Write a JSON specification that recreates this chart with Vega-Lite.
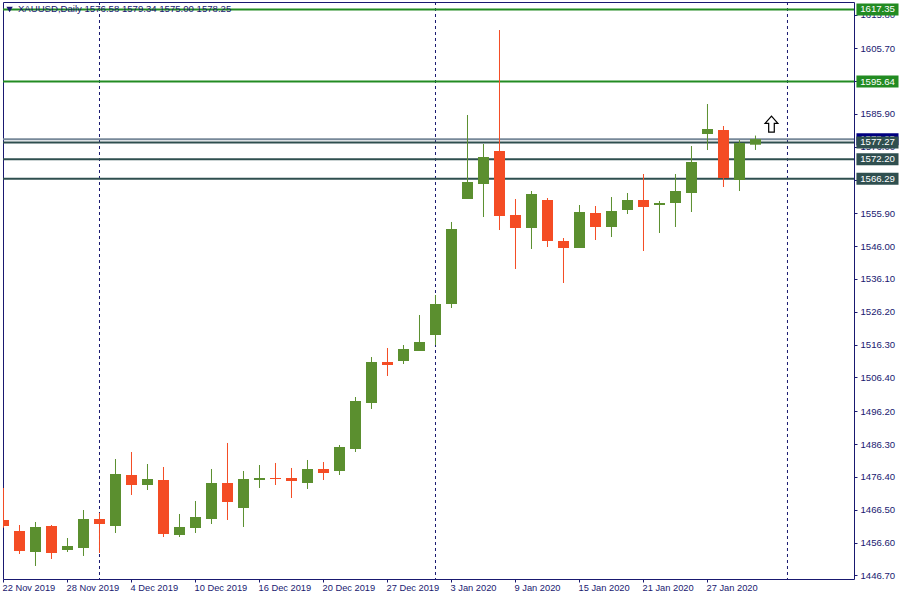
{
"$schema":"https://vega.github.io/schema/vega-lite/v6.json",
"width":851,"height":577,
"autosize":{"type":"none"},
"padding":{"left":3,"top":2,"right":46,"bottom":21},
"background":"white",
"view":{"stroke":"#191970","strokeWidth":1,"fill":"white"},
"config":{"font":"Liberation Sans","axis":{"labelOverlap":false,"labelBound":false,"labelFlush":false,"grid":false,"domain":false}},
"datasets":{
"candles":[
{"i":0,"date":"22 Nov 2019","open":1463.43,"high":1473.08,"low":1461.11,"close":1461.62},
{"i":1,"date":"25 Nov 2019","open":1460.11,"high":1461.92,"low":1453.18,"close":1454.08},
{"i":2,"date":"26 Nov 2019","open":1453.78,"high":1462.83,"low":1449.56,"close":1461.32},
{"i":3,"date":"27 Nov 2019","open":1461.62,"high":1461.92,"low":1451.67,"close":1453.48},
{"i":4,"date":"28 Nov 2019","open":1454.38,"high":1458.00,"low":1453.78,"close":1455.59},
{"i":5,"date":"29 Nov 2019","open":1454.99,"high":1466.44,"low":1452.58,"close":1463.73},
{"i":6,"date":"2 Dec 2019","open":1463.73,"high":1465.54,"low":1453.48,"close":1462.22},
{"i":7,"date":"3 Dec 2019","open":1461.62,"high":1481.82,"low":1459.51,"close":1477.30},
{"i":8,"date":"4 Dec 2019","open":1477.00,"high":1483.93,"low":1470.97,"close":1473.98},
{"i":9,"date":"5 Dec 2019","open":1473.98,"high":1480.31,"low":1472.47,"close":1475.79},
{"i":10,"date":"6 Dec 2019","open":1475.49,"high":1479.41,"low":1458.30,"close":1459.21},
{"i":11,"date":"9 Dec 2019","open":1458.91,"high":1465.24,"low":1458.30,"close":1461.32},
{"i":12,"date":"10 Dec 2019","open":1461.02,"high":1469.16,"low":1459.51,"close":1464.33},
{"i":13,"date":"11 Dec 2019","open":1463.73,"high":1478.81,"low":1462.22,"close":1474.59},
{"i":14,"date":"12 Dec 2019","open":1474.59,"high":1486.65,"low":1463.43,"close":1468.86},
{"i":15,"date":"13 Dec 2019","open":1467.05,"high":1478.20,"low":1461.32,"close":1475.79},
{"i":16,"date":"16 Dec 2019","open":1475.49,"high":1480.01,"low":1473.08,"close":1476.09},
{"i":17,"date":"17 Dec 2019","open":1476.09,"high":1480.62,"low":1473.98,"close":1475.79},
{"i":18,"date":"18 Dec 2019","open":1476.09,"high":1479.11,"low":1470.06,"close":1475.19},
{"i":19,"date":"19 Dec 2019","open":1474.59,"high":1481.52,"low":1472.78,"close":1478.81},
{"i":20,"date":"20 Dec 2019","open":1478.81,"high":1480.92,"low":1475.49,"close":1477.60},
{"i":21,"date":"23 Dec 2019","open":1478.20,"high":1486.04,"low":1477.00,"close":1485.44},
{"i":22,"date":"24 Dec 2019","open":1484.84,"high":1500.51,"low":1483.93,"close":1499.31},
{"i":23,"date":"26 Dec 2019","open":1498.71,"high":1512.57,"low":1496.90,"close":1511.07},
{"i":24,"date":"27 Dec 2019","open":1511.07,"high":1515.29,"low":1506.85,"close":1510.16},
{"i":25,"date":"30 Dec 2019","open":1511.37,"high":1516.19,"low":1510.46,"close":1514.99},
{"i":26,"date":"31 Dec 2019","open":1514.38,"high":1525.24,"low":1514.38,"close":1517.10},
{"i":27,"date":"2 Jan 2020","open":1519.21,"high":1531.27,"low":1516.19,"close":1528.55},
{"i":28,"date":"3 Jan 2020","open":1528.55,"high":1553.28,"low":1527.35,"close":1551.17},
{"i":29,"date":"6 Jan 2020","open":1560.21,"high":1585.54,"low":1560.21,"close":1565.34},
{"i":30,"date":"7 Jan 2020","open":1564.73,"high":1576.79,"low":1554.78,"close":1572.87},
{"i":31,"date":"8 Jan 2020","open":1574.68,"high":1611.16,"low":1550.86,"close":1555.09},
{"i":32,"date":"9 Jan 2020","open":1555.39,"high":1560.21,"low":1539.11,"close":1551.47},
{"i":33,"date":"10 Jan 2020","open":1551.47,"high":1562.62,"low":1545.14,"close":1561.72},
{"i":34,"date":"13 Jan 2020","open":1559.91,"high":1560.51,"low":1545.74,"close":1547.55},
{"i":35,"date":"14 Jan 2020","open":1547.55,"high":1548.45,"low":1534.89,"close":1545.44},
{"i":36,"date":"15 Jan 2020","open":1545.44,"high":1558.40,"low":1545.44,"close":1556.29},
{"i":37,"date":"16 Jan 2020","open":1555.99,"high":1558.10,"low":1547.85,"close":1551.77},
{"i":38,"date":"17 Jan 2020","open":1551.77,"high":1560.81,"low":1548.75,"close":1556.59},
{"i":39,"date":"20 Jan 2020","open":1556.89,"high":1562.02,"low":1555.69,"close":1559.91},
{"i":40,"date":"21 Jan 2020","open":1559.91,"high":1567.75,"low":1544.53,"close":1557.80},
{"i":41,"date":"22 Jan 2020","open":1558.40,"high":1559.61,"low":1549.96,"close":1559.01},
{"i":42,"date":"23 Jan 2020","open":1559.01,"high":1567.75,"low":1551.77,"close":1562.62},
{"i":43,"date":"24 Jan 2020","open":1562.02,"high":1576.19,"low":1556.29,"close":1571.37},
{"i":44,"date":"27 Jan 2020","open":1579.81,"high":1588.85,"low":1574.98,"close":1581.32},
{"i":45,"date":"28 Jan 2020","open":1581.01,"high":1582.22,"low":1563.83,"close":1566.54},
{"i":46,"date":"29 Jan 2020","open":1565.94,"high":1578.00,"low":1562.62,"close":1577.10},
{"i":47,"date":"30 Jan 2020","open":1576.58,"high":1579.34,"low":1575.00,"close":1578.25}
],
"levels":[
{"price":1578.25,"kind":"bid"},
{"price":1617.35,"kind":"upper"},
{"price":1595.64,"kind":"upper"},
{"price":1577.27,"kind":"lower"},
{"price":1572.20,"kind":"lower"},
{"price":1566.29,"kind":"lower"}
],
"separators":[{"i":6},{"i":27},{"i":49}],
"signal":[{"i":48,"price":1582.8}]
},
"layer":[
{"data":{"name":"separators"},
 "mark":{"type":"rule","stroke":"#191970","strokeWidth":1,"strokeDash":[3,3]},
 "encoding":{
  "x":{"field":"i","type":"quantitative","scale":{"domain":[-0.03125,53.1575],"nice":false,"zero":false,"padding":0},
   "axis":{"title":null,"tickCount":30,"values":[0,4,8,12,16,20,24,28,32,36,40,44],
    "labelExpr":"['22 Nov 2019','28 Nov 2019','4 Dec 2019','10 Dec 2019','16 Dec 2019','20 Dec 2019','27 Dec 2019','3 Jan 2020','9 Jan 2020','15 Jan 2020','21 Jan 2020','27 Jan 2020'][datum.value/4]",
    "labelAlign":"left","labelBaseline":"top","labelPadding":1,"labelOffset":-1.5,"tickSize":3,"tickColor":"#191970","labelColor":"#191970","labelFontSize":9.3,"labelFont":"Liberation Sans"}}
 }},
{"data":{"name":"levels"},
 "mark":{"type":"rule","strokeWidth":2,"clip":true},
 "encoding":{
  "y":{"field":"price","type":"quantitative","scale":{"domain":[1445.64,1619.61],"nice":false,"zero":false,"padding":0},
   "axis":{"title":null,"orient":"right","tickCount":40,"values":[1446.7,1456.6,1466.5,1476.4,1486.3,1496.2,1506.4,1516.3,1526.2,1536.1,1546.0,1555.9,1565.8,1576.0,1585.9,1595.8,1605.7,1615.8],
    "format":".2f","tickSize":3,"labelPadding":3,"tickColor":"#191970","labelColor":"#191970","labelFontSize":9.6,"labelFont":"Liberation Sans"}},
  "stroke":{"field":"kind","type":"nominal","legend":null,"scale":{"domain":["bid","upper","lower"],"range":["#778899","#228b22","#2f4f4f"]}}
 }},
{"data":{"name":"candles"},
 "mark":{"type":"rule","strokeWidth":1,"clip":true},
 "encoding":{
  "x":{"field":"i","type":"quantitative"},
  "y":{"field":"low","type":"quantitative"},
  "y2":{"field":"high"},
  "stroke":{"condition":{"test":"datum.close>=datum.open","value":"#5b8f2f"},"value":"#f44c24"}
 }},
{"data":{"name":"candles"},
 "mark":{"type":"bar","size":11,"clip":true,"orient":"vertical"},
 "encoding":{
  "x":{"field":"i","type":"quantitative"},
  "y":{"field":"open","type":"quantitative"},
  "y2":{"field":"close"},
  "fill":{"condition":{"test":"datum.close>=datum.open","value":"#5b8f2f"},"value":"#f44c24"}
 }},
{"data":{"name":"signal"},
 "mark":{"type":"point","filled":true,"fill":"white","stroke":"#000000","strokeWidth":1.2,"opacity":1,"size":256,"shape":"M0,-1 L0.8,-0.1 L0.35,-0.1 L0.35,1 L-0.35,1 L-0.35,-0.1 L-0.8,-0.1 Z"},
 "encoding":{
  "x":{"field":"i","type":"quantitative"},
  "y":{"field":"price","type":"quantitative"}
 }},
{"data":{"name":"levels"},
 "transform":[{"filter":"datum.kind==='bid'"}],
 "mark":{"type":"bar","size":12,"orient":"horizontal","fill":"#000080"},
 "encoding":{
  "y":{"field":"price","type":"quantitative"},
  "x":{"datum":53.31},
  "x2":{"datum":55.94}
 }},
{"data":{"name":"levels"},
 "transform":[{"filter":"datum.kind==='bid'"}],
 "mark":{"type":"text","align":"left","baseline":"middle","fontSize":9.6,"font":"Liberation Sans","fill":"white"},
 "encoding":{
  "y":{"field":"price","type":"quantitative"},
  "x":{"datum":53.55},
  "text":{"field":"price","type":"quantitative","format":".2f"}
 }},
{"data":{"name":"levels"},
 "transform":[{"filter":"datum.kind!=='bid'"}],
 "mark":{"type":"bar","size":12,"orient":"horizontal"},
 "encoding":{
  "y":{"field":"price","type":"quantitative"},
  "x":{"datum":53.31},
  "x2":{"datum":55.94},
  "fill":{"field":"kind","type":"nominal","legend":null,"scale":{"domain":["upper","lower"],"range":["#228b22","#2f4f4f"]}}
 }},
{"data":{"name":"levels"},
 "transform":[{"filter":"datum.kind!=='bid'"}],
 "mark":{"type":"text","align":"left","baseline":"middle","fontSize":9.6,"font":"Liberation Sans","fill":"white"},
 "encoding":{
  "y":{"field":"price","type":"quantitative"},
  "x":{"datum":53.55},
  "text":{"field":"price","type":"quantitative","format":".2f"}
 }},
{"data":{"values":[{"symbol":"XAUUSD,Daily  1576.58 1579.34 1575.00 1578.25"}]},
 "mark":{"type":"text","align":"left","baseline":"middle","fontSize":9.6,"font":"Liberation Sans","fill":"#191970"},
 "encoding":{
  "x":{"datum":0.9},
  "y":{"datum":1617.35},
  "text":{"field":"symbol"}
 }},
{"data":{"values":[{"marker":"collapse"}]},
 "mark":{"type":"point","shape":"triangle-down","filled":true,"fill":"#191970","opacity":1,"size":40},
 "encoding":{
  "x":{"datum":0.38},
  "y":{"datum":1617.35}
 }}
]
}
